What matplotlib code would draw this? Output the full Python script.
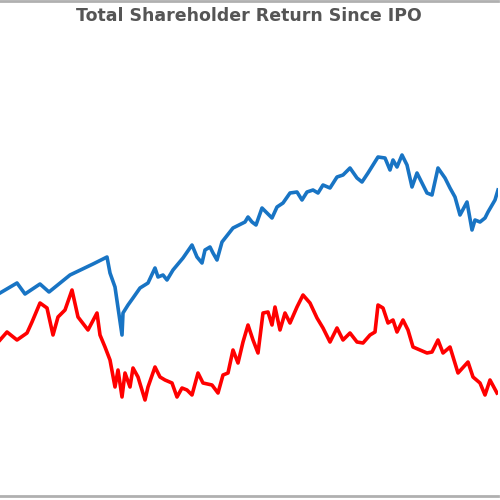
import matplotlib
matplotlib.use("Agg")
import matplotlib.pyplot as plt

# позиции по горизонтали (время) и уровни двух рядов
blue_t = [0, 17, 25, 40, 49, 70, 93, 107, 110, 115, 122, 123, 128, 133, 140,
          148, 155, 158, 163, 167, 173, 183, 192, 197, 202, 205, 210, 213, 217,
          222, 233, 245, 248, 252, 256, 262, 267, 272, 277, 283, 290, 297, 302,
          307, 313, 318, 323, 330, 337, 343, 350, 357, 362, 368, 378, 385, 390,
          393, 397, 402, 407, 412, 417, 422, 427, 432, 438, 445, 450, 455, 460,
          467, 472, 475, 480, 485, 488, 495, 498]
blue_v = [203, 213, 202, 212, 204, 221, 232, 239, 223, 209, 161, 183, 191, 198,
          208, 213, 228, 219, 221, 216, 226, 238, 251, 239, 233, 246, 249, 243,
          236, 254, 268, 274, 279, 274, 271, 288, 283, 278, 289, 293, 303, 304,
          296, 304, 306, 303, 311, 308, 319, 321, 328, 318, 314, 323, 339, 338,
          326, 336, 329, 341, 331, 309, 323, 313, 303, 301, 328, 318, 308, 299,
          281, 294, 266, 276, 274, 278, 284, 296, 306]

red_t = [0, 7, 17, 27, 32, 40, 47, 53, 58, 65, 72, 78, 88, 97, 100, 105, 110,
         115, 118, 122, 125, 130, 133, 138, 145, 148, 155, 160, 165, 172, 177,
         182, 187, 192, 198, 203, 212, 218, 223, 228, 233, 238, 243, 248, 253,
         258, 263, 268, 272, 275, 280, 285, 290, 297, 303, 310, 317, 323, 330,
         337, 343, 350, 357, 363, 370, 375, 378, 383, 388, 393, 397, 403, 408,
         413, 420, 427, 432, 438, 443, 450, 458, 468, 473, 480, 485, 490, 497]
red_v = [156, 164, 156, 163, 174, 193, 188, 161, 179, 186, 206, 179, 166, 183,
         161, 149, 136, 109, 126, 99, 123, 109, 128, 119, 96, 109, 129, 119, 116,
         113, 99, 108, 106, 101, 123, 113, 111, 103, 121, 123, 146, 133, 154, 171,
         156, 143, 183, 184, 171, 189, 166, 183, 173, 189, 201, 193, 178, 168, 154,
         168, 156, 163, 154, 153, 161, 164, 191, 188, 173, 176, 164, 176, 166, 149,
         146, 143, 144, 156, 143, 149, 123, 134, 119, 113, 101, 116, 103]

title = "Total Shareholder Return Since IPO"

fig = plt.figure(figsize=(5, 5), dpi=100)
ax = fig.add_axes([0, 0.008, 0.996, 0.99])

ax.plot(blue_t, blue_v, color="#1874c4", linewidth=2.6, solid_joinstyle="round")
ax.plot(red_t, red_v, color="#ff0000", linewidth=2.6, solid_joinstyle="round")

ax.set_xlim(0, 498)
ax.set_ylim(0, 495)
ax.set_xticks([])
ax.set_yticks([])
for side in ["left", "right"]:
    ax.spines[side].set_visible(False)
for side in ["top", "bottom"]:
    ax.spines[side].set_color("#b0b0b0")
    ax.spines[side].set_linewidth(2)

fig.text(0.497, 1 - 16 / 500, title, ha="center", va="center",
         fontsize=12.5, fontweight="bold", color="#555555")

fig.savefig("out.png", dpi=100)
